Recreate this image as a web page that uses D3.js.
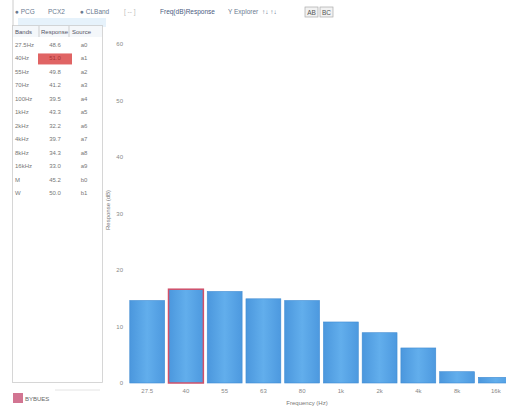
<!DOCTYPE html>
<html><head><meta charset="utf-8">
<script src="https://cdn.jsdelivr.net/npm/d3@7"></script>
<style>
html,body{margin:0;padding:0;background:#fff;}
svg{display:block;font-family:"Liberation Sans",Arial,sans-serif;}
</style></head>
<body>
<svg id="c" width="506" height="408"></svg>
<script>
// ---- data ----
const bands = ["27.5", "40", "55", "63", "80", "1k", "2k", "4k", "8k", "16k"];
const levels = [14.6, 16.6, 16.2, 14.9, 14.6, 10.8, 8.9, 6.2, 2.0, 1.0];
const selectedIndex = 1;
const yTicks = [0, 10, 20, 30, 40, 50, 60];
const tableHeaders = ["Bands", "Response", "Source"];
const tableBands = ["27.5Hz", "40Hz", "55Hz", "70Hz", "100Hz", "1kHz", "2kHz", "4kHz", "8kHz", "16kHz", "M", "W"];
const tableResponse = ["48.6", "51.0", "49.8", "41.2", "39.5", "43.3", "32.2", "39.7", "34.3", "33.0", "45.2", "50.0"];
const tableSource = ["a0", "a1", "a2", "a3", "a4", "a5", "a6", "a7", "a8", "a9", "b0", "b1"];
const toolbarItems = ["● PCG", "PCX2", "● CLBand", "[ -- ]", "Freq(dB)Response", "Y Explorer", "↑↓  ↑↓"];
const toolbarButtons = ["AB", "BC"];
const legendLabel = "BYBUES";
const xTitle = "Frequency (Hz)";
const yTitle = "Response (dB)";

const svg = d3.select("#c");
const txt = "#777";
const bg = svg.append("g");
const fg = svg.append("g");

// defs
const defs = svg.append("defs");
const g1 = defs.append("linearGradient").attr("id","bar").attr("x1","0").attr("x2","1").attr("y1","0").attr("y2","0");
g1.append("stop").attr("offset","0%").attr("stop-color","#4b97dd");
g1.append("stop").attr("offset","50%").attr("stop-color","#62aeec");
g1.append("stop").attr("offset","100%").attr("stop-color","#4d99df");

// ---- toolbar ----
bg.append("line").attr("x1",13).attr("x2",13).attr("y1",0).attr("y2",30).attr("stroke","#ccc");
const tbX = [15, 48, 80, 124, 160, 228, 262];
const tb = fg.append("g").attr("font-size",6.5);
toolbarItems.forEach((t,i)=>{
  tb.append("text").attr("x",tbX[i]).attr("y",14).text(t)
    .attr("fill", i===3 ? "#bbb" : (i===4 ? "#4a5a80" : "#6a7a90"));
});
const btnX = [305, 320];
toolbarButtons.forEach((t,i)=>{
  bg.append("rect").attr("x",btnX[i]).attr("y",7).attr("width",13).attr("height",10)
    .attr("fill","#f2f2f2").attr("stroke","#aaa").attr("stroke-width",0.7);
  tb.append("text").attr("x",btnX[i]+6.5).attr("y",14.5).attr("text-anchor","middle").attr("fill","#555").text(t);
});

// ---- left table panel ----
bg.append("rect").attr("x",18).attr("y",18).attr("width",88).attr("height",9).attr("fill","#e6f2fb");
bg.append("rect").attr("x",13).attr("y",26).attr("width",89).attr("height",11).attr("fill","#f4f7fa");
bg.append("rect").attr("x",12.5).attr("y",25.5).attr("width",90).attr("height",357).attr("fill","none").attr("stroke","#ccc").attr("stroke-width",0.8);
const colX = [15, 41, 72];
const tg = fg.append("g").attr("font-size",6).attr("fill",txt);
tableHeaders.forEach((h,i)=>{
  tg.append("text").attr("x",colX[i]).attr("y",34).attr("fill","#556").text(h);
});
bg.append("line").attr("x1",39).attr("x2",39).attr("y1",26).attr("y2",37).attr("stroke","#bbb").attr("stroke-width",0.7);
bg.append("line").attr("x1",69).attr("x2",69).attr("y1",26).attr("y2",37).attr("stroke","#bbb").attr("stroke-width",0.7);
const rowY = d3.scaleLinear().domain([0, 11]).range([47, 195]);
tableBands.forEach((b,i)=>{
  const yy = rowY(i);
  if (i === selectedIndex) {
    bg.append("rect").attr("x",38).attr("y",yy-7).attr("width",34).attr("height",11).attr("fill","#e06464");
  }
  tg.append("text").attr("x",colX[0]).attr("y",yy).text(b);
  tg.append("text").attr("x",55).attr("y",yy).attr("text-anchor","middle")
    .attr("fill", i===selectedIndex ? "#a33" : txt).text(tableResponse[i]);
  tg.append("text").attr("x",84).attr("y",yy).attr("text-anchor","middle").text(tableSource[i]);
});

// ---- legend ----
bg.append("line").attr("x1",55).attr("x2",100).attr("y1",390).attr("y2",390).attr("stroke","#e4e4e4");
bg.append("rect").attr("x",13).attr("y",393).attr("width",10).attr("height",10).attr("fill","#d27592");
fg.append("text").attr("x",25).attr("y",401).attr("font-size",6).attr("fill","#666").text(legendLabel);

// ---- chart ----
const x = d3.scaleBand().domain(bands).range([129, 514]).paddingInner(0.1).paddingOuter(0.02);
const y = d3.scaleLinear().domain([0, 60]).range([383, 44]);

const yAxis = fg.append("g").attr("transform","translate(126,0)")
  .call(d3.axisLeft(y).tickValues(yTicks).tickSize(0).tickPadding(3));
yAxis.select(".domain").remove();
yAxis.selectAll("text").attr("font-size",6).attr("fill","#888");

const xAxis = fg.append("g").attr("transform","translate(0,383)")
  .call(d3.axisBottom(x).tickSize(0).tickPadding(6));
xAxis.select(".domain").remove();
xAxis.selectAll("text").attr("font-size",6).attr("fill","#888");

fg.selectAll("rect.bar").data(bands).join("rect").attr("class","bar")
  .attr("x", d=>x(d)).attr("width", x.bandwidth())
  .attr("y", (d,i)=>y(levels[i])).attr("height", (d,i)=>y(0)-y(levels[i]))
  .attr("fill","url(#bar)")
  .attr("stroke", (d,i)=> i===selectedIndex ? "#d0506a" : "#3f8bd2")
  .attr("stroke-width", (d,i)=> i===selectedIndex ? 1.5 : 0.6);

fg.append("text").attr("x",307).attr("y",405).attr("text-anchor","middle")
  .attr("font-size",6).attr("fill","#777").text(xTitle);
fg.append("text").attr("transform","translate(110,210) rotate(-90)").attr("text-anchor","middle")
  .attr("font-size",6).attr("fill","#777").text(yTitle);
</script>
</body></html>
